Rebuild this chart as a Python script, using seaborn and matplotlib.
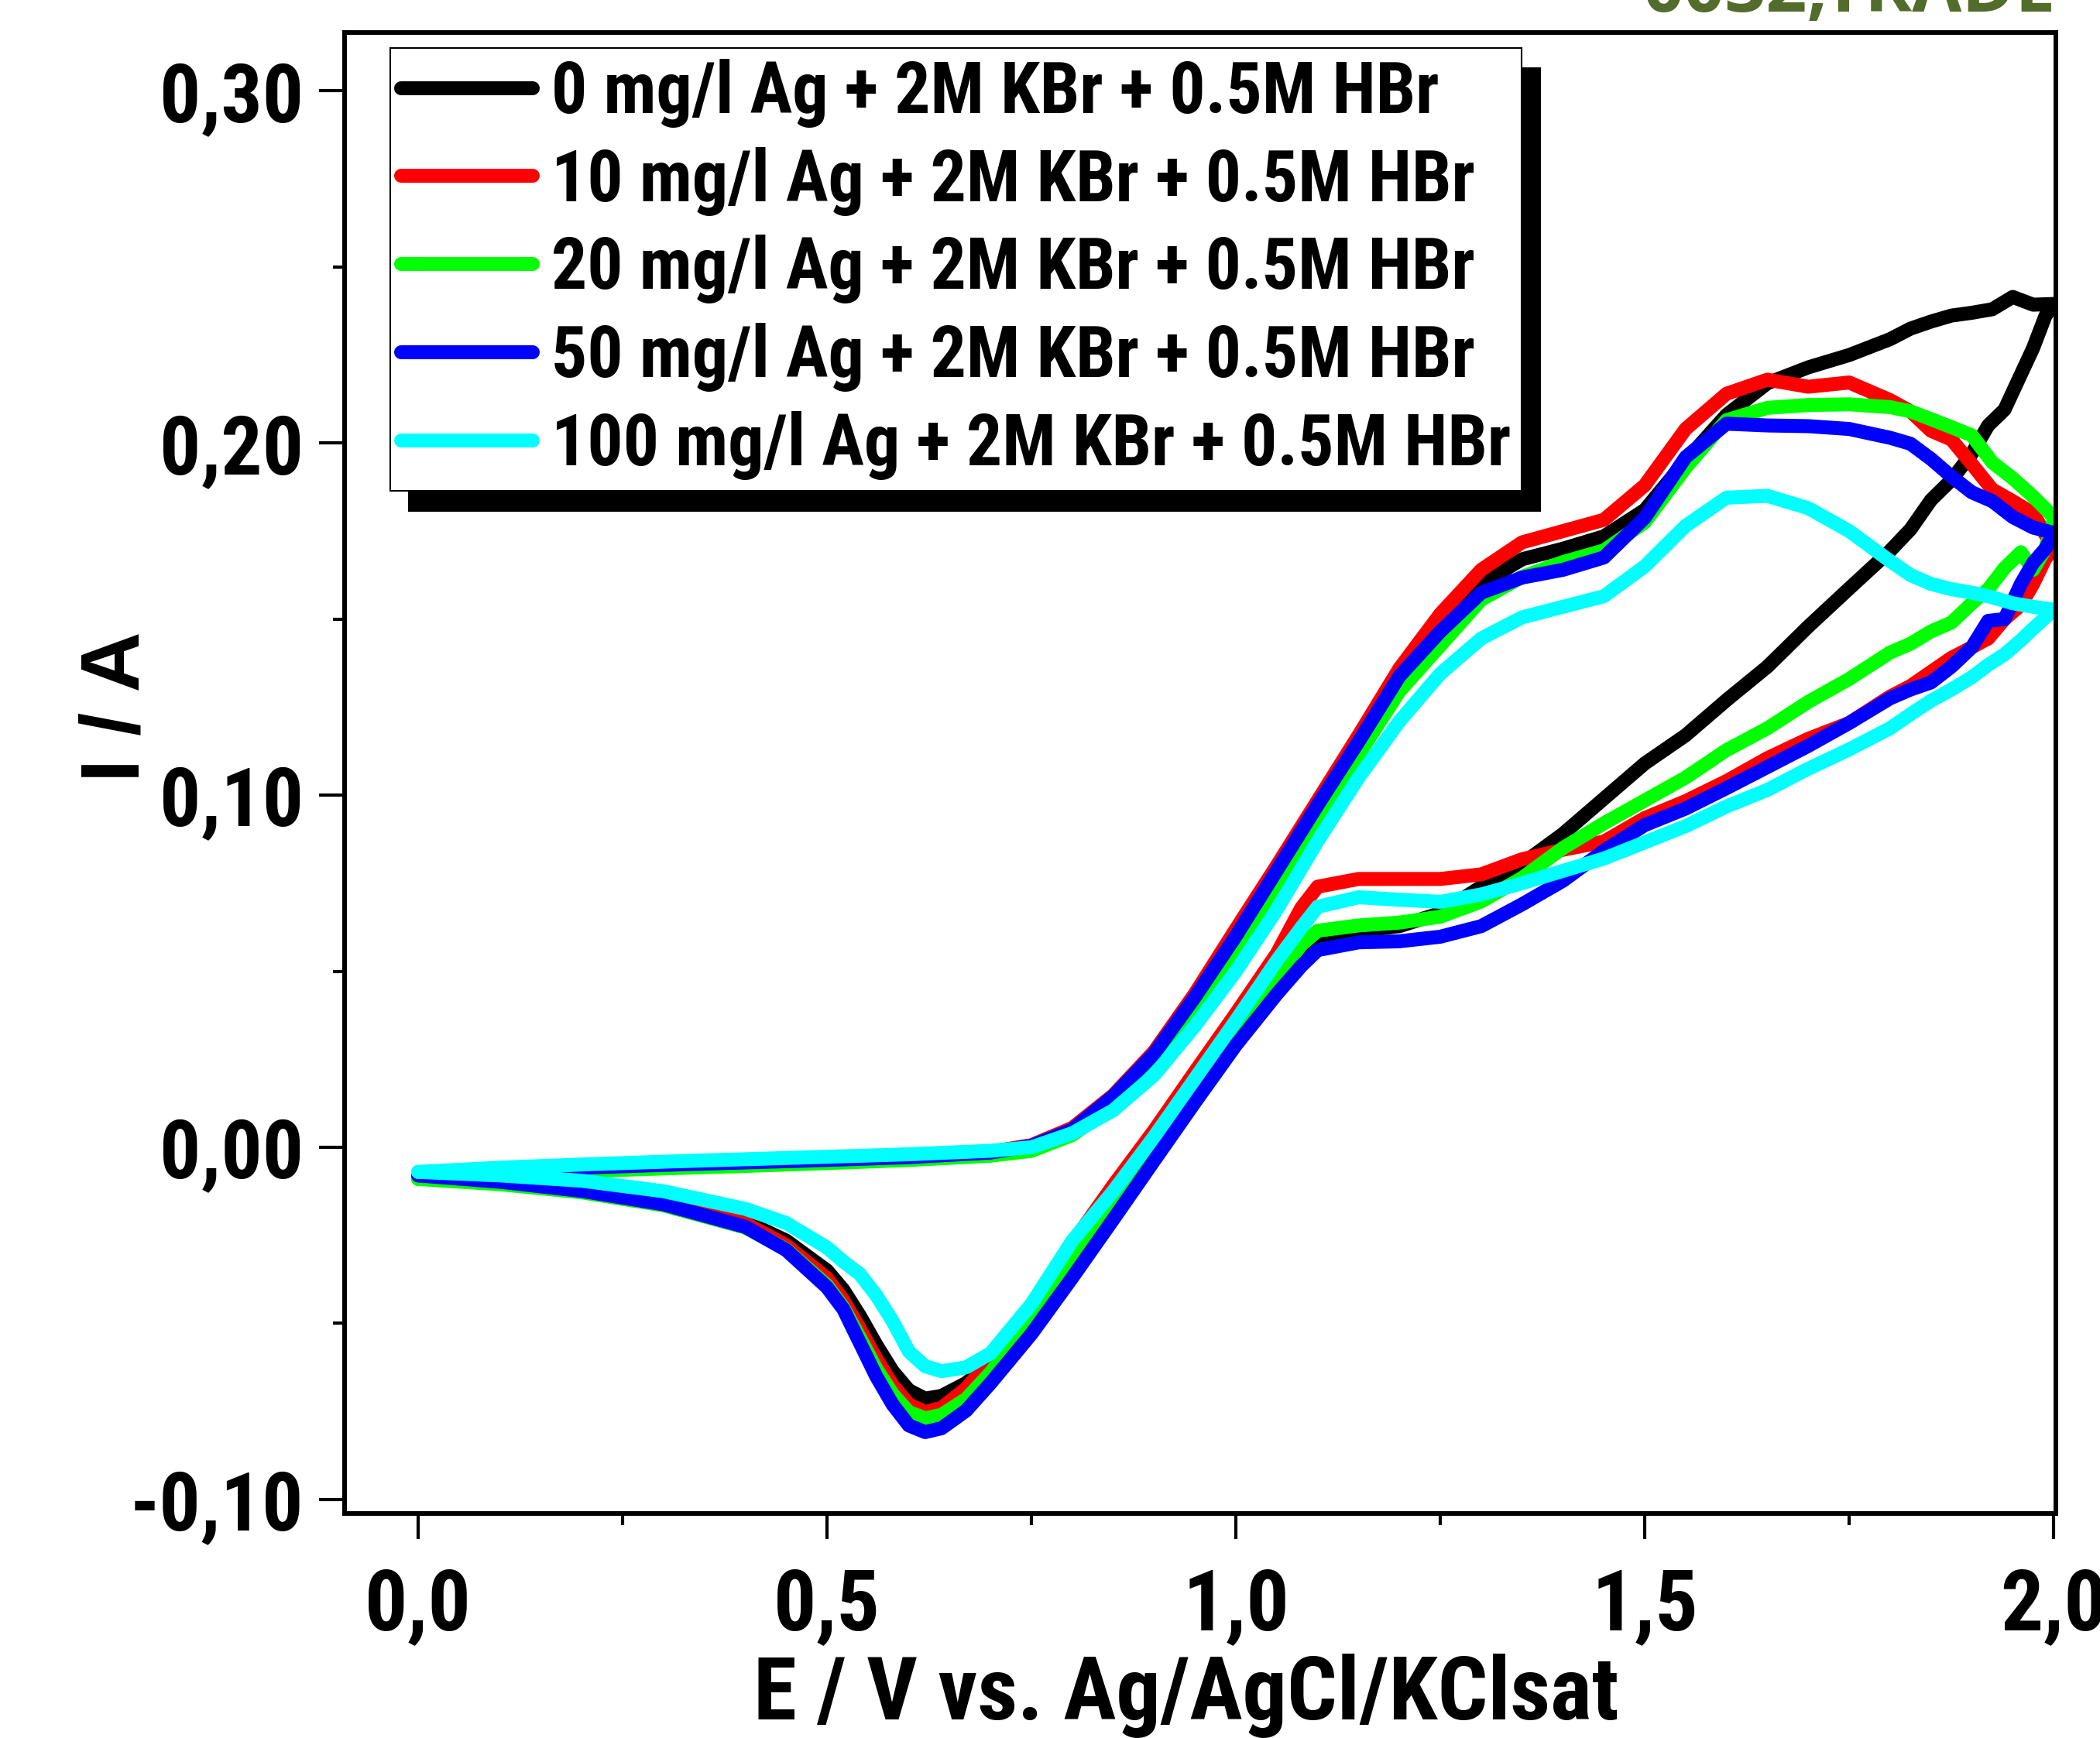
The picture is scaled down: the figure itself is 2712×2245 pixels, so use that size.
import matplotlib
matplotlib.use("Agg")
import matplotlib.pyplot as plt
from matplotlib.lines import Line2D
import seaborn as sns
import pandas as pd

# potential grid of the forward (positive going) and reverse sweep
E_FWD = [0.0, 0.1, 0.2, 0.3, 0.4, 0.5, 0.6, 0.7, 0.75, 0.8, 0.85, 0.9, 0.95, 1.0, 1.05,
         1.1, 1.15, 1.2, 1.25, 1.3, 1.35, 1.4, 1.45, 1.5, 1.55, 1.6, 1.65, 1.7, 1.75, 1.8,
         1.825, 1.85, 1.875, 1.9, 1.925, 1.95, 1.975, 2.0]
E_REV = [2.0, 1.99, 1.975, 1.96, 1.94, 1.92, 1.9, 1.875, 1.85, 1.825, 1.8, 1.75, 1.7, 1.65,
         1.6, 1.55, 1.5, 1.45, 1.4, 1.35, 1.3, 1.25, 1.2, 1.15, 1.1, 1.08, 1.05, 1.0, 0.95,
         0.9, 0.85, 0.8, 0.75, 0.7, 0.67, 0.64, 0.62, 0.6, 0.58, 0.56, 0.54, 0.52, 0.5, 0.45,
         0.4, 0.3, 0.2, 0.1, 0.0]

LABELS = ['0 mg/l Ag + 2M KBr + 0.5M HBr',
          '10 mg/l Ag + 2M KBr + 0.5M HBr',
          '20 mg/l Ag + 2M KBr + 0.5M HBr',
          '50 mg/l Ag + 2M KBr + 0.5M HBr',
          '100 mg/l Ag + 2M KBr + 0.5M HBr']
COLORS = ['#000000', '#ff0000', '#00ff00', '#0000ff', '#00ffff']

# current (A), forward sweep
I_FWD_0 = [-0.0078, -0.0066, -0.0056, -0.0048, -0.0041, -0.0034, -0.0026, -0.0014, 0.0004, 0.0050,
           0.0140, 0.0262, 0.0425, 0.0605, 0.0785, 0.0970, 0.1155, 0.1340, 0.1500, 0.1600,
           0.1670, 0.1700, 0.1735, 0.1810, 0.1950, 0.2080, 0.2170, 0.2215, 0.2250, 0.2295,
           0.2325, 0.2345, 0.2362, 0.2370, 0.2380, 0.2415, 0.2393, 0.2395]
I_FWD_10 = [-0.0078, -0.0066, -0.0056, -0.0048, -0.0041, -0.0034, -0.0026, -0.0013, 0.0006, 0.0055,
            0.0148, 0.0272, 0.0437, 0.0620, 0.0800, 0.0985, 0.1170, 0.1360, 0.1515, 0.1640,
            0.1718, 0.1750, 0.1782, 0.1880, 0.2040, 0.2140, 0.2180, 0.2160, 0.2172, 0.2122,
            0.2090, 0.2035, 0.2010, 0.1940, 0.1868, 0.1835, 0.1800, 0.1700]
I_FWD_20 = [-0.0090, -0.0078, -0.0068, -0.0060, -0.0053, -0.0045, -0.0036, -0.0024, -0.0010, 0.0035,
            0.0118, 0.0235, 0.0390, 0.0565, 0.0745, 0.0930, 0.1115, 0.1295, 0.1425, 0.1555,
            0.1620, 0.1662, 0.1695, 0.1775, 0.1930, 0.2065, 0.2100, 0.2108, 0.2110, 0.2102,
            0.2090, 0.2068, 0.2045, 0.2022, 0.1945, 0.1900, 0.1848, 0.1790]
I_FWD_50 = [-0.0080, -0.0068, -0.0058, -0.0050, -0.0043, -0.0036, -0.0028, -0.0015, 0.0004, 0.0050,
            0.0145, 0.0266, 0.0427, 0.0600, 0.0786, 0.0972, 0.1152, 0.1338, 0.1465, 0.1575,
            0.1618, 0.1640, 0.1675, 0.1788, 0.1960, 0.2055, 0.2050, 0.2048, 0.2040, 0.2015,
            0.1998, 0.1955, 0.1905, 0.1860, 0.1835, 0.1790, 0.1760, 0.1745]
I_FWD_100 = [-0.0070, -0.0058, -0.0049, -0.0041, -0.0034, -0.0027, -0.0020, -0.0010, 0.0000, 0.0040,
             0.0105, 0.0205, 0.0345, 0.0500, 0.0675, 0.0870, 0.1050, 0.1210, 0.1345, 0.1445,
             0.1505, 0.1535, 0.1565, 0.1650, 0.1765, 0.1845, 0.1850, 0.1815, 0.1750, 0.1665,
             0.1625, 0.1600, 0.1585, 0.1575, 0.1562, 0.1545, 0.1535, 0.1527]

# current (A), reverse sweep
I_REV_0 = [0.2395, 0.2361, 0.2270, 0.2195, 0.2095, 0.2050, 0.1970, 0.1895, 0.1838, 0.1755,
           0.1694, 0.1587, 0.1479, 0.1365, 0.1270, 0.1170, 0.1090, 0.0990, 0.0890, 0.0805,
           0.0740, 0.0665, 0.0628, 0.0615, 0.0600, 0.0565, 0.0480, 0.0345, 0.0190, 0.0035,
           -0.0115, -0.0285, -0.0465, -0.0610, -0.0670, -0.0706, -0.0714, -0.0690, -0.0635,
           -0.0560, -0.0478, -0.0405, -0.0350, -0.0265, -0.0210, -0.0150, -0.0115, -0.0092, -0.0078]
I_REV_10 = [0.1700, 0.1672, 0.1600, 0.1540, 0.1500, 0.1445, 0.1420, 0.1390, 0.1350, 0.1310,
            0.1280, 0.1205, 0.1160, 0.1105, 0.1040, 0.0983, 0.0935, 0.0868, 0.0845, 0.0818,
            0.0775, 0.0762, 0.0762, 0.0762, 0.0740, 0.0680, 0.0550, 0.0380, 0.0215, 0.0048,
            -0.0108, -0.0272, -0.0455, -0.0605, -0.0685, -0.0740, -0.0752, -0.0730, -0.0675,
            -0.0600, -0.0515, -0.0435, -0.0372, -0.0278, -0.0216, -0.0156, -0.0118, -0.0095, -0.0078]
I_REV_20 = [0.1780, 0.1700, 0.1640, 0.1690, 0.1645, 0.1585, 0.1545, 0.1490, 0.1465, 0.1430,
            0.1405, 0.1330, 0.1265, 0.1190, 0.1128, 0.1050, 0.0985, 0.0920, 0.0850, 0.0765,
            0.0698, 0.0655, 0.0638, 0.0630, 0.0615, 0.0575, 0.0480, 0.0320, 0.0160, 0.0000,
            -0.0160, -0.0330, -0.0490, -0.0640, -0.0715, -0.0760, -0.0770, -0.0752, -0.0700,
            -0.0628, -0.0540, -0.0455, -0.0392, -0.0290, -0.0228, -0.0165, -0.0128, -0.0105, -0.0090]
I_REV_50 = [0.1745, 0.1700, 0.1660, 0.1600, 0.1500, 0.1495, 0.1420, 0.1365, 0.1320, 0.1300,
            0.1275, 0.1205, 0.1140, 0.1080, 0.1020, 0.0962, 0.0915, 0.0842, 0.0757, 0.0690,
            0.0628, 0.0598, 0.0585, 0.0582, 0.0560, 0.0515, 0.0435, 0.0290, 0.0128, -0.0038,
            -0.0205, -0.0370, -0.0530, -0.0670, -0.0748, -0.0798, -0.0809, -0.0790, -0.0730,
            -0.0650, -0.0555, -0.0460, -0.0398, -0.0292, -0.0226, -0.0162, -0.0124, -0.0098, -0.0080]
I_REV_100 = [0.1527, 0.1505, 0.1473, 0.1440, 0.1400, 0.1370, 0.1335, 0.1300, 0.1268, 0.1230,
             0.1190, 0.1130, 0.1075, 0.1015, 0.0968, 0.0912, 0.0866, 0.0820, 0.0785, 0.0750,
             0.0718, 0.0697, 0.0703, 0.0710, 0.0683, 0.0624, 0.0530, 0.0360, 0.0195, 0.0030,
             -0.0125, -0.0265, -0.0445, -0.0585, -0.0625, -0.0636, -0.0622, -0.0580, -0.0493,
             -0.0420, -0.0360, -0.0325, -0.0285, -0.0215, -0.0175, -0.0125, -0.0095, -0.0080, -0.0070]

I_FWD = [I_FWD_0, I_FWD_10, I_FWD_20, I_FWD_50, I_FWD_100]
I_REV = [I_REV_0, I_REV_10, I_REV_20, I_REV_50, I_REV_100]

X_TICKS = [0.0, 0.5, 1.0, 1.5, 2.0]
X_TICK_LABELS = ['0,0', '0,5', '1,0', '1,5', '2,0']
Y_TICKS = [-0.10, 0.0, 0.10, 0.20, 0.30]
Y_TICK_LABELS = ['-0,10', '0,00', '0,10', '0,20', '0,30']

frames = []
for lab, fw, rv in zip(LABELS, I_FWD, I_REV):
    frames.append(pd.DataFrame({'E': E_FWD + E_REV, 'I': fw + rv, 'series': lab}))
df = pd.concat(frames, ignore_index=True)

sns.set_theme(style='ticks')
narrow = ['Roboto Condensed', 'DejaVu Sans']
plt.rcParams['font.family'] = narrow
plt.rcParams['font.weight'] = 'bold'
for key in ('text.color', 'axes.labelcolor', 'xtick.color', 'ytick.color', 'axes.edgecolor'):
    plt.rcParams[key] = 'black'

fig = plt.figure(figsize=(27.12, 22.45), dpi=100)
ax = fig.add_axes([0.1641, 0.1292, 0.8149, 0.8521])

sns.lineplot(data=df, x='E', y='I', hue='series', hue_order=LABELS,
             palette=dict(zip(LABELS, COLORS)), sort=False, estimator=None,
             linewidth=13, legend=False, ax=ax,
             solid_capstyle='round', solid_joinstyle='round')

ax.set_xlim(-0.090, 2.0028)
ax.set_ylim(-0.1040, 0.3166)

ax.set_xticks(X_TICKS)
ax.set_xticklabels(X_TICK_LABELS)
ax.set_xticks([0.25, 0.75, 1.25, 1.75], minor=True)
ax.set_yticks(Y_TICKS)
ax.set_yticklabels(Y_TICK_LABELS)
ax.set_yticks([-0.05, 0.05, 0.15, 0.25], minor=True)

ax.tick_params(axis='both', which='both', direction='out', width=3, color='black',
               top=False, right=False)
ax.tick_params(axis='both', which='major', length=24)
ax.tick_params(axis='both', which='minor', length=11)
ax.tick_params(axis='x', which='major', pad=25, labelsize=79)
ax.tick_params(axis='y', which='major', pad=14, labelsize=76)
for lab in ax.get_xticklabels() + ax.get_yticklabels():
    lab.set_fontweight('bold')

for sp in ax.spines.values():
    sp.set_linewidth(4.3)
    sp.set_color('black')

ax.set_xlabel('E / V vs. Ag/AgCl/KClsat', fontsize=82, fontweight='bold')
ax.xaxis.set_label_coords(0.4919, -0.0946)
ax.set_ylabel('I / A', fontsize=78, fontweight='bold', va='center',
              family=['Liberation Sans', 'DejaVu Sans'])
ax.yaxis.set_label_coords(-0.1326, 0.545)

handles = [Line2D([], [], color=c, lw=13) for c in COLORS]
leg = ax.legend(handles, LABELS, loc='upper left', bbox_to_anchor=(0.0267, 0.9895),
                borderaxespad=0, frameon=True, fancybox=False, framealpha=1,
                edgecolor='black', facecolor='white',
                prop={'family': narrow, 'weight': 'bold', 'size': 66},
                handlelength=1.86, handletextpad=0.26, borderpad=0.15, labelspacing=0.27,
                shadow={'color': 'black', 'alpha': 1.0, 'ox': 17, 'oy': -19})
leg.get_frame().set_linewidth(1.5)

fig.text(2655 / 2712, 1 - 15 / 2245, '0032,TRADE', ha='right', va='baseline',
         color='#536b2b', fontsize=67, fontweight='bold',
         family=['Open Sans', 'DejaVu Sans'])

fig.savefig('out.png', dpi=100)
